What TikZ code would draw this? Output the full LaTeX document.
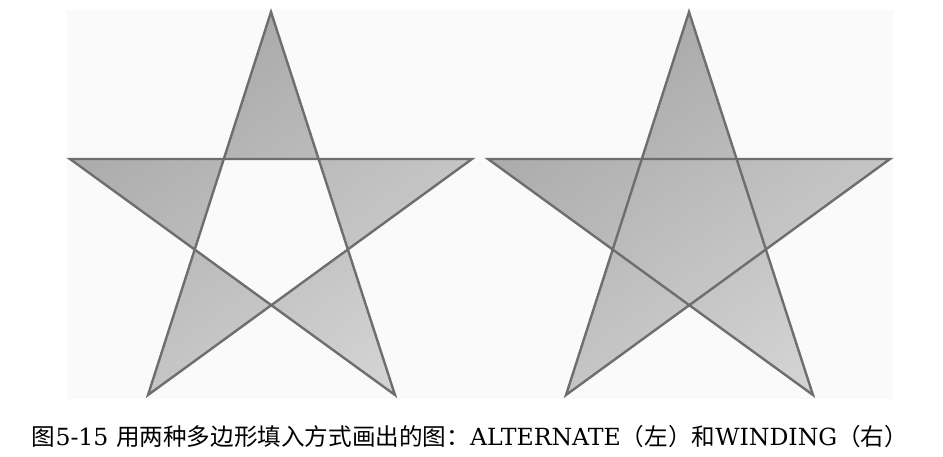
\documentclass[tikz,border=0pt]{standalone}
\usepackage{fontspec}
\setmainfont{DejaVu Serif}
\newfontfamily\cjk{Noto Sans CJK SC}
\definecolor{bgpanel}{HTML}{FAFAFA}
\definecolor{starline}{HTML}{6E6E6E}
\definecolor{stardark}{HTML}{A6A6A6}
\definecolor{starlight}{HTML}{D2D2D2}
\tikzset{
  starshape/.style={draw=starline, line width=2.4pt, line join=miter, miter limit=20,
    shading=axis, top color=stardark, bottom color=starlight, shading angle=35},
  captext/.style={font=\fontsize{23.6}{27}\selectfont, inner sep=0pt, anchor=center}
}
\begin{document}
\begin{tikzpicture}[x=1pt,y=-1pt]
\useasboundingbox (0,0) rectangle (943,457);
\fill[white] (0,0) rectangle (943,457);
\fill[bgpanel] (67,10) rectangle (893,399);
% left star (alternate)
\coordinate (aT) at (271,12);
\coordinate (aL) at (70,159);
\coordinate (aR) at (472,159);
\coordinate (aBL) at (148,395);
\coordinate (aBR) at (395,395);
\path[starshape, even odd rule] (aT) -- (aBL) -- (aR) -- (aL) -- (aBR) -- cycle;
% right star (winding)
\coordinate (bT) at (689,12);
\coordinate (bL) at (488,159);
\coordinate (bR) at (890,159);
\coordinate (bBL) at (566,395);
\coordinate (bBR) at (813,395);
\path[starshape, nonzero rule] (bT) -- (bBL) -- (bR) -- (bL) -- (bBR) -- cycle;
\node[captext] (cap) at (470,437) {{\cjk 图}5-15 {\cjk 用两种多边形填入方式画出的图：}ALTERNATE{\cjk （左）和}WINDING{\cjk （右）}};
\end{tikzpicture}
\end{document}
